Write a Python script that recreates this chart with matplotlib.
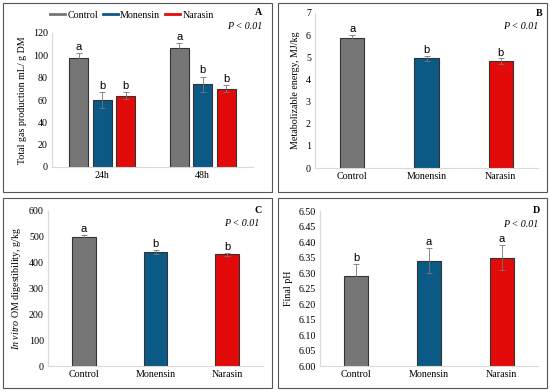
import numpy as np
import matplotlib
matplotlib.use("Agg")
import matplotlib.pyplot as plt
from matplotlib.patches import Rectangle
from matplotlib.lines import Line2D

# ---- data ----
treatments = ["Control", "Monensin", "Narasin"]
colors = ["#767676", "#0b5a85", "#e30a0a"]

# panel A: total gas production at 24h and 48h
times = ["24h", "48h"]
gas_mean = {"Control": [98, 107], "Monensin": [60, 74], "Narasin": [64, 70]}
gas_err = {"Control": [4, 4], "Monensin": [7, 7], "Narasin": [3, 3]}
gas_letters = {"Control": ["a", "a"], "Monensin": ["b", "b"], "Narasin": ["b", "b"]}

# panel B: metabolizable energy
me_mean = [5.87, 4.95, 4.83]
me_err = [0.15, 0.12, 0.13]
me_letters = ["a", "b", "b"]

# panel C: in vitro OM digestibility
omd_mean = [500, 440, 432]
omd_err = [8, 8, 6]
omd_letters = ["a", "b", "b"]

# panel D: final pH
ph_mean = [6.29, 6.34, 6.35]
ph_err = [0.04, 0.04, 0.04]
ph_letters = ["b", "a", "a"]

serif = "Liberation Serif"
sans = "Liberation Sans"
plt.rcParams["mathtext.fontset"] = "custom"
plt.rcParams["mathtext.rm"] = serif
plt.rcParams["mathtext.it"] = serif + ":italic"

FS = 7.2

fig = plt.figure(figsize=(5.5, 3.92), dpi=100)

# panel borders
for (x0, y0, x1, y1) in [(3, 3, 272, 192), (278, 3, 547, 192),
                         (3, 198, 272, 388), (278, 198, 547, 388)]:
    fig.add_artist(Rectangle((x0 / 550, 1 - y1 / 392), (x1 - x0) / 550, (y1 - y0) / 392,
                             transform=fig.transFigure, fill=False, ec="#555555", lw=0.8))


def style_axes(ax):
    for s in ["top", "right"]:
        ax.spines[s].set_visible(False)
    for s in ["left", "bottom"]:
        ax.spines[s].set_color("#d9d9d9")
        ax.spines[s].set_linewidth(0.8)
    ax.tick_params(length=0, labelsize=FS, pad=3)
    for lab in ax.get_xticklabels() + ax.get_yticklabels():
        lab.set_fontfamily(serif)


def corner(ax, letter, xl, yl, xp, yp):
    ax.text(xl, yl, letter, transform=ax.transAxes, ha="right", va="center",
            fontsize=FS, fontweight="bold", fontfamily=serif)
    ax.text(xp, yp, "P < 0.01", transform=ax.transAxes, ha="right", va="center",
            fontsize=FS, fontstyle="italic", fontfamily=serif)


def simple_panel(ax, means, errs, letters, ylim, step, ylabel, fmt, off):
    x = np.arange(len(treatments))
    ax.bar(x, means, width=0.33, color=colors, edgecolor="#333333", linewidth=0.8,
           yerr=errs, error_kw=dict(ecolor="#777777", elinewidth=0.6, capsize=2, capthick=0.6))
    for xi, m, e, l in zip(x, means, errs, letters):
        ax.text(xi, m + e + off, l, ha="center", va="bottom", fontsize=8, fontfamily=sans)
    ax.set_xlim(-0.5, 2.5)
    ax.set_ylim(*ylim)
    ax.set_yticks(np.arange(ylim[0], ylim[1] + step / 2, step))
    ax.yaxis.set_major_formatter(matplotlib.ticker.FormatStrFormatter(fmt))
    ax.set_xticks(x)
    ax.set_xticklabels(treatments)
    ax.set_ylabel(ylabel, fontsize=FS, fontfamily=serif, labelpad=4)
    style_axes(ax)


# ---- panel A ----
axA = fig.add_axes([52 / 550, 1 - 167 / 392, 201 / 550, 134 / 392])
xg = np.arange(len(times))
bw = 0.19
for i, t in enumerate(treatments):
    xs = xg + (i - 1) * 0.235
    axA.bar(xs, gas_mean[t], width=bw, color=colors[i], edgecolor="#333333", linewidth=0.8,
            yerr=gas_err[t], error_kw=dict(ecolor="#777777", elinewidth=0.6, capsize=2, capthick=0.6))
    for xi, m, e, l in zip(xs, gas_mean[t], gas_err[t], gas_letters[t]):
        axA.text(xi, m + e + 1, l, ha="center", va="bottom", fontsize=8, fontfamily=sans)
axA.set_xlim(-0.5, 1.5)
axA.set_ylim(0, 120)
axA.set_yticks(np.arange(0, 121, 20))
axA.set_xticks(xg)
axA.set_xticklabels(times)
axA.set_ylabel("Total gas production mL/ g DM", fontsize=FS, fontfamily=serif, labelpad=4)
style_axes(axA)
handles = [Line2D([0], [0], color=c, lw=2) for c in colors]
fig.legend(handles, treatments, loc="center", bbox_to_anchor=(132 / 550, 1 - 15 / 392),
           ncol=3, frameon=False, handlelength=1.5, handletextpad=0.2, columnspacing=0.5,
           prop={"family": serif, "size": FS})
corner(axA, "A", 1.045, 1.15, 1.045, 1.05)

# ---- panel B ----
axB = fig.add_axes([315 / 550, 1 - 168 / 392, 223 / 550, 155 / 392])
simple_panel(axB, me_mean, me_err, me_letters, (0, 7), 1,
             "Metabolizable energy, MJ/kg", "%d", 0.03)
corner(axB, "B", 1.02, 1.0, 1.0, 0.91)

# ---- panel C ----
axC = fig.add_axes([48 / 550, 1 - 366 / 392, 215 / 550, 155 / 392])
simple_panel(axC, omd_mean, omd_err, omd_letters, (0, 600), 100,
             "$\\mathit{In\\ vitro}$ OM digestibility, g/kg", "%d", 3)
corner(axC, "C", 0.995, 1.0, 0.985, 0.92)

# ---- panel D ----
axD = fig.add_axes([320 / 550, 1 - 366 / 392, 218 / 550, 155 / 392])
simple_panel(axD, ph_mean, ph_err, ph_letters, (6.0, 6.5), 0.05,
             "Final pH", "%.2f", 0.003)
corner(axD, "D", 1.01, 1.0, 1.0, 0.91)

fig.savefig("out.png", dpi=100)
